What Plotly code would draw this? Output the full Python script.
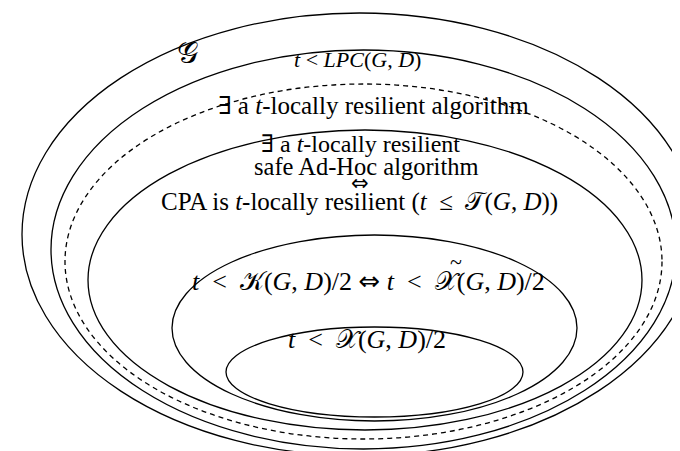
import plotly.graph_objects as go

# Nested regions of the diagram (bounding boxes of each ellipse, in pixel units)
region_names = ["G", "LPC", "locally_resilient", "CPA", "K", "X"]
region_left = [14, 43, 57, 80, 164, 218]
region_right = [689, 668, 654, 634, 569, 515]
region_top = [5, 42, 76, 122, 227, 319]
region_bottom = [448, 441, 431, 422, 413, 409]

ARROW = '<span style="font-family:DejaVu Sans">⇔</span>'

labels = [
    "𝒢",
    "<i>t</i> &lt; <i>LPC</i>(<i>G</i>, <i>D</i>)",
    "∃ a <i>t</i>-locally resilient algorithm",
    "∃ a <i>t</i>-locally resilient",
    "safe Ad-Hoc algorithm",
    ARROW,
    "CPA is <i>t</i>-locally resilient (<i>t</i>  ≤  𝒯(<i>G</i>, <i>D</i>))",
    "<i>t</i>  &lt;  𝒦(<i>G</i>, <i>D</i>)/2 " + ARROW + " <i>t</i>  &lt;  𝒳(<i>G</i>, <i>D</i>)/2",
    "<i>t</i>  &lt;  𝒳(<i>G</i>, <i>D</i>)/2",
]

label_pos = [(179, 44), (349, 51), (365, 97), (352, 136), (358, 158),
             (352, 175), (351, 194), (360, 273), (359, 331)]
label_size = [30, 22, 25, 24, 24.5, 21, 25, 26, 26]

FONT = "Liberation Serif, DejaVu Serif, serif"

fig = go.Figure()
fig.add_trace(go.Scatter(x=[0, 680], y=[0, 451], mode="markers",
                         marker=dict(opacity=0), hoverinfo="skip",
                         showlegend=False))

for i, name in enumerate(region_names):
    dash = "5px,4px" if name == "locally_resilient" else "solid"
    fig.add_shape(type="circle", xref="x", yref="y",
                  x0=region_left[i], x1=region_right[i],
                  y0=region_top[i], y1=region_bottom[i],
                  line=dict(color="black", width=1.3, dash=dash),
                  fillcolor="rgba(0,0,0,0)", layer="above")

for txt, (x, y), s in zip(labels, label_pos, label_size):
    fig.add_annotation(x=x, y=y, xref="x", yref="y", text=txt,
                       showarrow=False, xanchor="center", yanchor="middle",
                       font=dict(family=FONT, size=s, color="black"))

# tilde accent over the second script X
fig.add_annotation(x=448, y=253, xref="x", yref="y", text="~",
                   showarrow=False, xanchor="center", yanchor="middle",
                   font=dict(family=FONT, size=22, color="black"))

fig.update_layout(
    width=680, height=451, autosize=False,
    margin=dict(l=0, r=0, t=0, b=0),
    paper_bgcolor="white", plot_bgcolor="white",
    xaxis=dict(range=[0, 680], visible=False, fixedrange=True),
    yaxis=dict(range=[451, 0], visible=False, fixedrange=True),
    showlegend=False,
)

fig.write_html("out.html")
